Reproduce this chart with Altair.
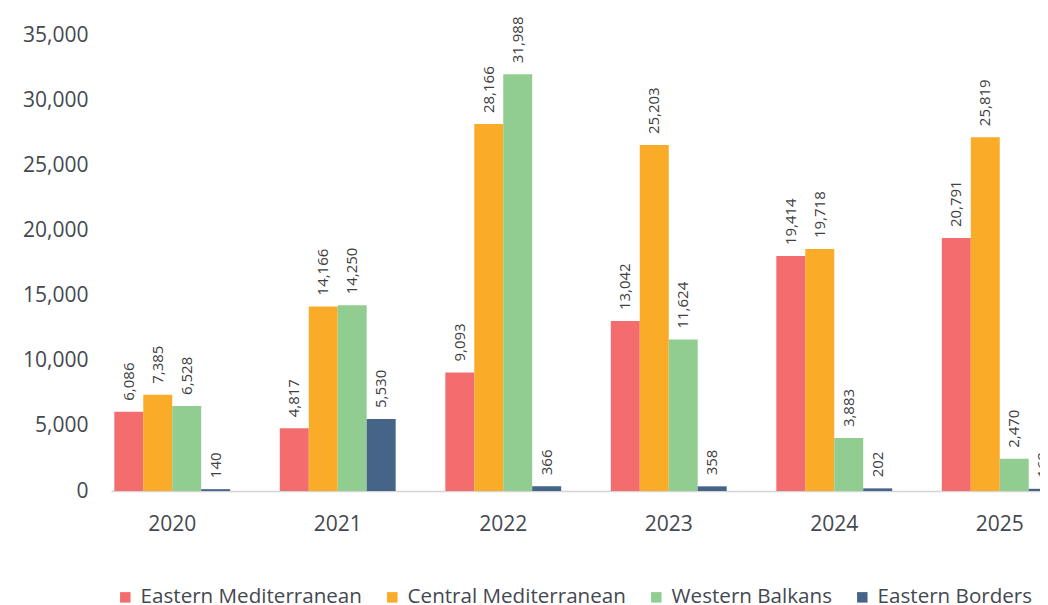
import altair as alt
import pandas as pd

years = ["2020", "2021", "2022", "2023", "2024", "2025"]
series = ["Eastern Mediterranean", "Central Mediterranean", "Western Balkans", "Eastern Borders"]
colors = ["#F36D6E", "#FAAB28", "#91CD91", "#466487"]

# bar heights as drawn
heights = {
    "Eastern Mediterranean": [6086, 4817, 9093, 13042, 18030, 19410],
    "Central Mediterranean": [7385, 14166, 28166, 26550, 18570, 27160],
    "Western Balkans": [6528, 14250, 31988, 11624, 4060, 2470],
    "Eastern Borders": [140, 5530, 366, 358, 202, 168],
}
# value labels as printed
labels = {
    "Eastern Mediterranean": ["6,086", "4,817", "9,093", "13,042", "19,414", "20,791"],
    "Central Mediterranean": ["7,385", "14,166", "28,166", "25,203", "19,718", "25,819"],
    "Western Balkans": ["6,528", "14,250", "31,988", "11,624", "3,883", "2,470"],
    "Eastern Borders": ["140", "5,530", "366", "358", "202", "168"],
}

rows = []
for s in series:
    for i, y in enumerate(years):
        rows.append({"year": y, "series": s, "value": heights[s][i], "label": labels[s][i]})
df = pd.DataFrame(rows)

FONT = "Open Sans"
TXT = "#444850"

x_enc = alt.X("year:N", sort=years, title=None,
              scale=alt.Scale(paddingInner=0.3, paddingOuter=0.02),
              axis=alt.Axis(labelAngle=0, ticks=False, labelFont=FONT, labelFontSize=21,
                            labelColor=TXT, labelPadding=22, domainColor="#d4d4d4",
                            domainWidth=1.5, grid=False))
xo_enc = alt.XOffset("series:N", sort=series)
y_enc = alt.Y("value:Q", title=None,
              scale=alt.Scale(domain=[0, 35000], nice=False),
              axis=alt.Axis(values=[0, 5000, 10000, 15000, 20000, 25000, 30000, 35000],
                            format=",.0f", ticks=False, domain=False, grid=False,
                            labelFont=FONT, labelFontSize=21, labelColor=TXT,
                            labelPadding=23))

bars = alt.Chart(df).mark_bar().encode(
    x=x_enc,
    xOffset=xo_enc,
    y=y_enc,
    color=alt.Color("series:N", sort=series,
                    scale=alt.Scale(domain=series, range=colors),
                    legend=alt.Legend(title=None, orient="none", direction="horizontal",
                                      legendX=4, legendY=552, symbolType="square",
                                      symbolSize=110, symbolStrokeWidth=0,
                                      labelFont=FONT, labelFontSize=20.6, labelColor=TXT,
                                      labelOffset=5, columnPadding=20, padding=0,
                                      labelLimit=600)),
)

text = alt.Chart(df).mark_text(
    angle=270, align="left", baseline="middle", dx=11,
    font=FONT, fontSize=15, color="#404040",
).encode(
    x=alt.X("year:N", sort=years),
    xOffset=alt.XOffset("series:N", sort=series),
    y=alt.Y("value:Q"),
    text="label:N",
)

chart = (bars + text).properties(
    width=950, height=456,
    autosize=alt.AutoSizeParams(type="none"),
    padding={"left": 103, "top": 27, "right": -21, "bottom": 114},
).configure_view(stroke=None)

chart.save("out.html", embed_options={"renderer": "svg", "actions": False})
